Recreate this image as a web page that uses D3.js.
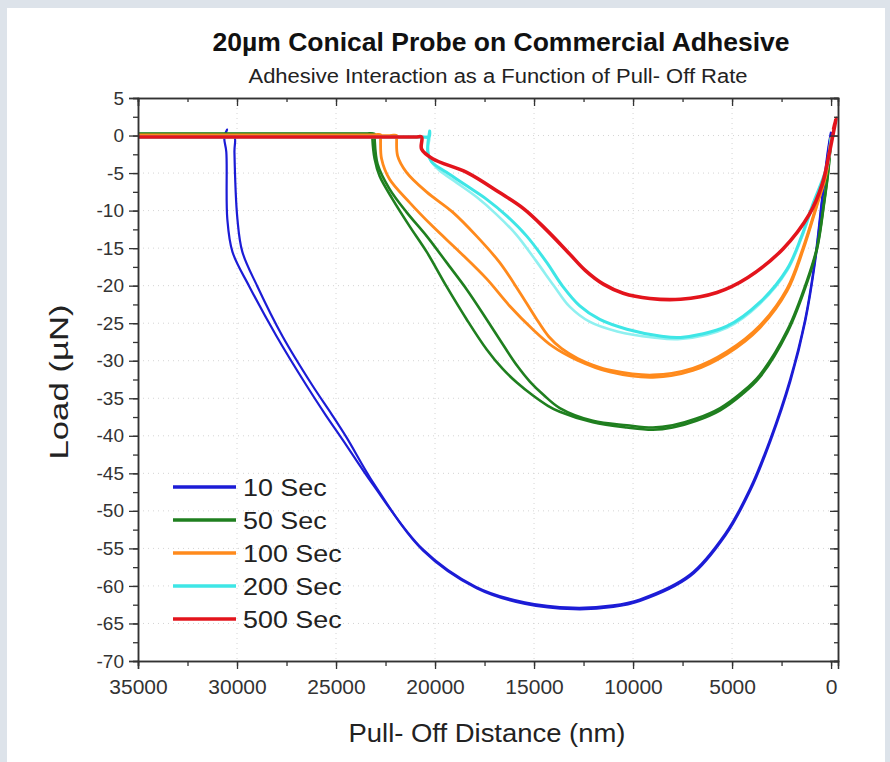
<!DOCTYPE html>
<html>
<head>
<meta charset="utf-8">
<script src="https://cdn.jsdelivr.net/npm/d3@7"></script>
<style>
  body { margin: 0; background: #dde3ea; }
  svg { display: block; font-family: Arial, "Liberation Sans", sans-serif; }
</style>
</head>
<body>
<svg id="chart"></svg>
<script>
// ---- data (x in nm, y in µN) ----
const seriesNames = ["10 Sec", "50 Sec", "100 Sec", "200 Sec", "500 Sec"];
const xTicks = [35000, 30000, 25000, 20000, 15000, 10000, 5000, 0];
const yTicks = [5, 0, -5, -10, -15, -20, -25, -30, -35, -40, -45, -50, -55, -60, -65, -70];

const sec10A = [[35000,-0.1],[31000,-0.1],[30700,-0.1],[30500,0.8],[30640,-0.3],[30540,-2.2],[30490,-11.1],[30230,-15.5],[29380,-20.1],[28010,-26.7],[26490,-33.3],[25530,-37.2],[24670,-40.5],[23160,-46.4],[20630,-55.1],[17950,-60.1],[15470,-62.2],[13040,-62.9],[11020,-62.6],[9660,-61.8],[7130,-58.5],[5360,-53.1],[4100,-47.1],[3080,-40.5],[2070,-32.5],[1310,-24.5],[810,-16.5],[460,-8.5],[150,-1.8],[0,0.5]];
const sec10B = [[35000,-0.2],[30400,-0.2],[30130,-0.2],[30130,-2.2],[29980,-11.1],[29730,-15.5],[28970,-20.1],[27710,-26.7],[26190,-33.3],[25250,-37],[24470,-40.2],[23060,-46.5],[20600,-55.3],[17900,-60.3],[15450,-62.4],[13000,-63.1],[11000,-62.8],[9650,-62],[7110,-58.7],[5340,-53.3],[4080,-47.3],[3060,-40.7],[2050,-32.7],[1300,-24.7],[800,-16.7],[450,-8.7],[140,-2],[0,0.3]];

const sec50A = [[35000,0.25],[23500,0.25],[23160,0.25],[23160,-0.5],[23050,-3.1],[22800,-5.4],[22140,-8.5],[21280,-12.1],[20420,-15.5],[19420,-20.1],[18400,-24.5],[17390,-28.5],[16580,-31.1],[15870,-32.9],[15070,-34.6],[14300,-36],[13700,-36.8],[12030,-38.2],[10310,-38.9],[9000,-39.2],[8000,-38.9],[6800,-38],[5600,-36.6],[4500,-34.5],[3600,-32.2],[2200,-26.2],[1200,-19.5],[700,-15],[350,-9],[150,-5],[0,-0.5]];
const sec50B = [[35000,0.2],[23400,0.2],[23050,0.2],[23050,-0.5],[22900,-3.8],[22300,-7.1],[21440,-10.2],[20420,-13.4],[19420,-16.9],[18400,-20.5],[17390,-24.5],[16580,-27.8],[15870,-30.6],[15200,-32.8],[14500,-34.6],[13700,-36.3],[12030,-38],[10310,-38.6],[9000,-38.9],[8000,-38.6],[6800,-37.7],[5600,-36.3],[4500,-34.2],[3600,-31.9],[2200,-25.9],[1200,-19.2],[700,-14.8],[350,-8.8],[150,-4.8],[0,-0.4]];

const sec100A = [[35000,0.1],[23100,0.1],[22750,0.1],[22750,-0.5],[22700,-3.1],[22300,-5.8],[21290,-8.9],[20120,-12.1],[18760,-15.5],[17390,-19.1],[16230,-22.7],[15070,-25.8],[14060,-28.1],[12840,-29.9],[11170,-31.5],[9000,-32.2],[6980,-31.3],[5260,-29.1],[3590,-25.6],[2220,-20.7],[1420,-15.3],[700,-9.2],[250,-5.2],[0,-0.3]];
const sec100B = [[35000,0],[22300,0],[21940,0],[21940,-0.5],[21890,-2.7],[21440,-4.9],[20430,-7.5],[19110,-10.2],[17900,-13.4],[16740,-16.9],[15720,-20.9],[14860,-24.5],[14250,-26.8],[13600,-28.4],[12800,-29.7],[12000,-30.6],[11100,-31.3],[9000,-31.9],[6980,-31],[5260,-28.8],[3590,-25.3],[2220,-20.4],[1420,-15],[700,-9],[250,-5],[0,-0.2]];

const sec200A = [[35000,-0.2],[20700,-0.2],[20300,-0.2],[20270,0.6],[20370,-2.2],[20170,-3.5],[19420,-4.9],[18400,-6.7],[17390,-8.5],[16380,-10.7],[15370,-13.4],[14360,-16.9],[13550,-20.1],[12690,-22.7],[11680,-24.5],[10310,-25.8],[8650,-26.7],[7600,-26.9],[5260,-25.4],[3590,-22.2],[2220,-17.8],[1500,-13.5],[900,-9],[450,-6],[180,-3.8],[0,-0.3]];
const sec200B = [[35000,-0.2],[20700,-0.2],[20300,-0.2],[20350,-1.5],[20250,-3.2],[19800,-4.6],[18900,-6.3],[17900,-8.2],[16900,-10.5],[15900,-13.2],[14900,-16.7],[14000,-20],[13200,-22.8],[12200,-24.8],[10800,-26.1],[9000,-26.9],[7600,-27.1],[5260,-25.6],[3590,-22.4],[2220,-18],[1500,-13.7],[900,-9.2],[450,-6.2],[180,-4],[0,-0.4]];

const sec500 = [[35000,-0.2],[21000,-0.2],[20680,-0.2],[20680,-1.8],[20120,-3.1],[18400,-4.9],[16740,-7.6],[15500,-9.8],[14400,-12.5],[13300,-15.5],[12400,-18],[11500,-19.8],[10500,-21],[9150,-21.7],[7600,-21.8],[5760,-20.9],[4200,-18.9],[2430,-15.1],[1100,-10.5],[450,-6.5],[100,-2.5],[-250,2.3],[-120,0.8]];

// ---- styles ----
const seriesColors = ["#1c1cd6", "#1f7f1f", "#ff8a1c", "#3ee6e6", "#e3141c"];
const traces = [
  { pts: sec10A, s: 0, w: 2.2 }, { pts: sec10B, s: 0, w: 2.2 },
  { pts: sec50A, s: 1, w: 2.6 }, { pts: sec50B, s: 1, w: 2.6 },
  { pts: sec100A, s: 2, w: 2.8 }, { pts: sec100B, s: 2, w: 2.8 },
  { pts: sec200B, s: 3, w: 2.6, c: "#8ff0f0" }, { pts: sec200A, s: 3, w: 3 },
  { pts: sec500, s: 4, w: 3.6 }
];

const W = 890, H = 762;
const mLeft = 138, mRight = 838, mTop = 98, mBottom = 661;

const svg = d3.select("#chart").attr("width", W).attr("height", H);

svg.append("rect").attr("x", 7).attr("y", 8).attr("width", 878).attr("height", H - 8).attr("fill", "#fff");

const x = d3.scaleLinear().domain([35000, -350]).range([mLeft, mRight]);
const y = d3.scaleLinear().domain([-70, 5]).range([mBottom, mTop]);

const xMinor = d3.range(0, 35001, 2500);
const yMinor = d3.range(-70, 5.1, 2.5);

// stretch a text horizontally to a given factor of its natural width
function stretch(sel, factor) {
  sel.each(function () {
    const w = this.getComputedTextLength();
    d3.select(this).attr("textLength", w * factor).attr("lengthAdjust", "spacingAndGlyphs");
  });
}

// grid (faint dotted)
const grid = svg.append("g").attr("stroke", "#d4d4d4").attr("stroke-width", 1).attr("stroke-dasharray", "1,4");
grid.selectAll(".gx").data(xTicks.slice(1, -1)).enter().append("line")
    .attr("x1", d => x(d)).attr("x2", d => x(d)).attr("y1", mTop).attr("y2", mBottom);
grid.selectAll(".gy").data(yTicks.slice(1, -1)).enter().append("line")
    .attr("x1", mLeft).attr("x2", mRight).attr("y1", d => y(d)).attr("y2", d => y(d));

// curves
const line = d3.line().x(d => x(d[0])).y(d => y(d[1])).curve(d3.curveCatmullRom.alpha(0.5));
const plot = svg.append("g");
traces.forEach(t => {
  plot.append("path")
      .attr("d", line(t.pts))
      .attr("fill", "none")
      .attr("stroke", t.c || seriesColors[t.s])
      .attr("stroke-width", t.w)
      .attr("stroke-linejoin", "round");
});

// axes
const axisColor = "#333";
const fmt = d => `${d}`;
const bottomAxis = svg.append("g").attr("transform", `translate(0,${mBottom})`)
    .call(d3.axisBottom(x).tickValues(xTicks).tickSize(8).tickPadding(11).tickFormat(fmt));
svg.append("g").attr("transform", `translate(0,${mBottom})`)
    .call(d3.axisBottom(x).tickValues(xMinor).tickSize(5).tickFormat(""));
const leftAxis = svg.append("g").attr("transform", `translate(${mLeft},0)`)
    .call(d3.axisLeft(y).tickValues(yTicks).tickSize(9).tickPadding(5).tickFormat(fmt));
svg.append("g").attr("transform", `translate(${mLeft},0)`)
    .call(d3.axisLeft(y).tickValues(yMinor).tickSize(5).tickFormat(""));
// top and right: inward ticks
svg.append("g").attr("transform", `translate(0,${mTop})`)
    .call(d3.axisTop(x).tickValues(xTicks).tickSize(-8).tickFormat(""));
svg.append("g").attr("transform", `translate(0,${mTop})`)
    .call(d3.axisTop(x).tickValues(xMinor).tickSize(-4).tickFormat(""));
svg.append("g").attr("transform", `translate(${mRight},0)`)
    .call(d3.axisRight(y).tickValues(yTicks).tickSize(-8).tickFormat(""));
svg.append("g").attr("transform", `translate(${mRight},0)`)
    .call(d3.axisRight(y).tickValues(yMinor).tickSize(-4).tickFormat(""));

svg.selectAll(".domain").attr("stroke", axisColor).attr("stroke-width", 1.5);
svg.selectAll(".tick line").attr("stroke", axisColor).attr("stroke-width", 1.3);
svg.selectAll(".tick text").attr("fill", "#333").attr("font-family", "Arial, 'Liberation Sans', sans-serif");
bottomAxis.selectAll("text").attr("font-size", 20).call(stretch, 1.05);
leftAxis.selectAll("text").attr("font-size", 19);

// titles
svg.append("text").attr("x", 501).attr("y", 51).attr("text-anchor", "middle")
    .attr("font-size", 26).attr("font-weight", "bold").attr("fill", "#111")
    .attr("textLength", 577).attr("lengthAdjust", "spacingAndGlyphs")
    .text("20µm Conical Probe on Commercial Adhesive");
svg.append("text").attr("x", 498).attr("y", 83).attr("text-anchor", "middle")
    .attr("font-size", 20).attr("fill", "#222")
    .attr("textLength", 499).attr("lengthAdjust", "spacingAndGlyphs")
    .text("Adhesive Interaction as a Function of Pull- Off Rate");
svg.append("text").attr("x", 487).attr("y", 742).attr("text-anchor", "middle")
    .attr("font-size", 26).attr("fill", "#222")
    .attr("textLength", 277).attr("lengthAdjust", "spacingAndGlyphs")
    .text("Pull- Off Distance (nm)");
svg.append("text").attr("transform", "translate(68,382) rotate(-90)").attr("text-anchor", "middle")
    .attr("font-size", 25).attr("fill", "#222")
    .attr("textLength", 155).attr("lengthAdjust", "spacingAndGlyphs")
    .text("Load (µN)");

// legend
const legend = svg.append("g");
seriesNames.forEach((name, i) => {
  const ly = 487 + i * 33;
  legend.append("line").attr("x1", 173).attr("x2", 236).attr("y1", ly).attr("y2", ly)
      .attr("stroke", seriesColors[i]).attr("stroke-width", 3.5);
  legend.append("text").attr("x", 243).attr("y", ly + 9).attr("font-size", 24).attr("fill", "#222")
      .text(name).call(stretch, 1.12);
});
</script>
</body>
</html>
